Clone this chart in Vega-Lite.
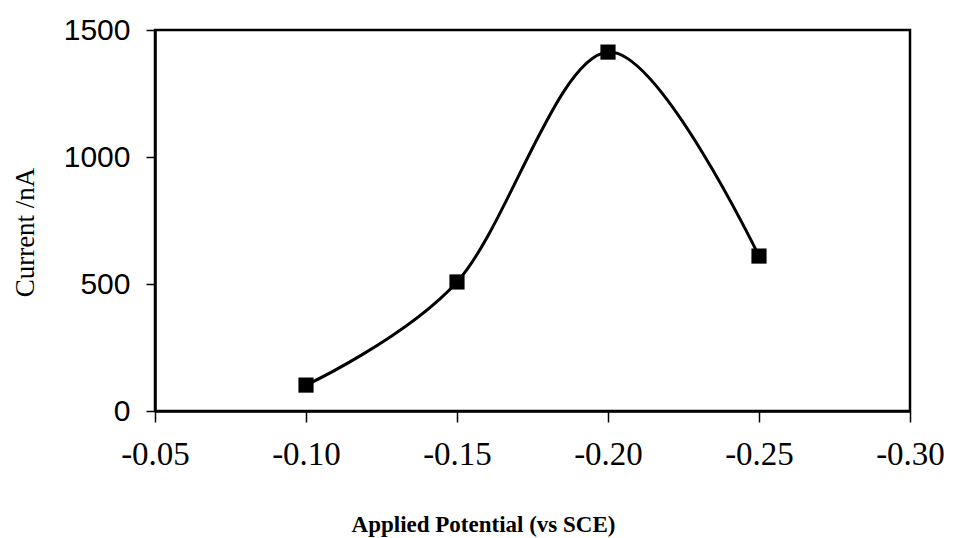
{
  "$schema": "https://vega.github.io/schema/vega-lite/v6.json",
  "autosize": "none",
  "width": 755,
  "height": 381,
  "padding": {"left": 155, "top": 30, "right": 47, "bottom": 127},
  "background": "white",
  "config": {
    "view": {"stroke": "black", "strokeWidth": 2.5},
    "axis": {"grid": false, "domainColor": "black", "domainWidth": 2.5, "tickColor": "black", "tickWidth": 1.5}
  },
  "data": {
    "values": [
      {"potential": -0.10, "current": 102},
      {"potential": -0.15, "current": 508},
      {"potential": -0.20, "current": 1413},
      {"potential": -0.25, "current": 610}
    ]
  },
  "encoding": {
    "x": {
      "field": "potential",
      "type": "quantitative",
      "scale": {"domain": [-0.30, -0.05], "reverse": true, "nice": false, "zero": false},
      "axis": {
        "title": "Applied Potential (vs SCE)",
        "values": [-0.05, -0.10, -0.15, -0.20, -0.25, -0.30],
        "labelExpr": "'-' + format(-datum.value, '.2f')",
        "labelFont": "Liberation Serif",
        "labelFontSize": 33,
        "labelColor": "black",
        "labelPadding": 16,
        "labelFlush": false,
        "tickSize": 11,
        "titleFont": "Liberation Serif",
        "titleFontSize": 23,
        "titleFontWeight": "bold",
        "titleColor": "black",
        "titleX": 328,
        "titleY": 125,
        "titleBaseline": "bottom",
        "titleAnchor": "middle"
      }
    },
    "y": {
      "field": "current",
      "type": "quantitative",
      "scale": {"domain": [0, 1500], "nice": false},
      "axis": {
        "title": "Current /nA",
        "values": [0, 500, 1000, 1500],
        "format": "d",
        "labelFont": "Liberation Sans",
        "labelFontSize": 30,
        "labelColor": "black",
        "labelPadding": 16,
        "labelFlush": false,
        "tickSize": 9,
        "titleFont": "Liberation Serif",
        "titleFontSize": 27,
        "titleFontWeight": "normal",
        "titleColor": "black",
        "titleAngle": 270,
        "titleX": -130,
        "titleY": 202,
        "titleAlign": "center",
        "titleBaseline": "middle"
      }
    }
  },
  "layer": [
    {"mark": {"type": "line", "interpolate": "cardinal", "color": "black", "strokeWidth": 3}},
    {"mark": {"type": "point", "shape": "square", "filled": true, "color": "black", "size": 230, "opacity": 1}}
  ]
}
